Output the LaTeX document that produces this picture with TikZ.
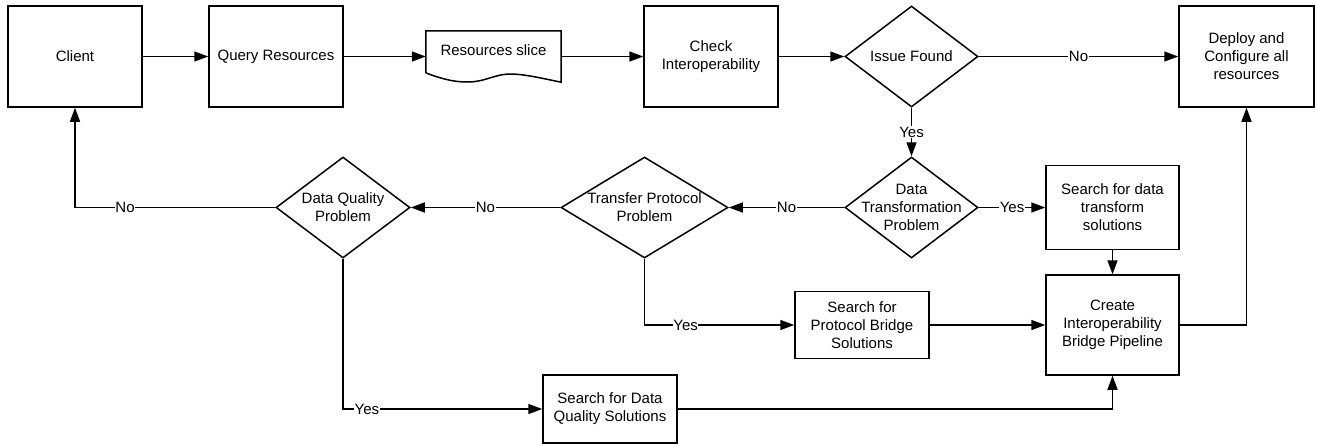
\documentclass[tikz,border=0pt]{standalone}
\usepackage{fontspec}
\setmainfont{Liberation Sans}
\usetikzlibrary{arrows.meta,shapes.geometric}
\begin{document}
\begin{tikzpicture}[x=1pt,y=-1pt,
  every node/.style={font=\fontsize{15}{18}\selectfont, align=center},
  box/.style={draw, line width=1.5pt, inner sep=0pt},
  dia/.style={draw, diamond, line width=1.5pt, inner sep=0pt},
  flow/.style={line width=1.5pt, -{Triangle[length=14pt,width=10pt]}},
  lbl/.style={fill=white, inner sep=0.5pt}]
\useasboundingbox (0,0) rectangle (1317,445);

% top row
\node[box, minimum width=134pt, minimum height=101pt] (client) at (75,56.5) {Client};
\node[box, minimum width=134pt, minimum height=101pt] (query) at (276,56.5) {Query Resources};
\node[minimum width=135pt, minimum height=51pt, inner sep=0pt] (slice) at (493.5,56.5) {};
\node at (493.5,50.5) {Resources slice};
\draw[line width=1.5pt] (slice.south west) ++(0,-9) -- (slice.north west) -- (slice.north east) -- (slice.south east)
  .. controls (545,79) and (525,74) .. (510,74)
  .. controls (495,74) and (485,82) .. (468,82)
  .. controls (455,82) and (445,80) .. (426,73);
\node[box, minimum width=134pt, minimum height=101pt] (check) at (711,56.5) {Check\\Interoperability};
\node[dia, minimum width=133pt, minimum height=101pt, label={center:Issue Found}] (issue) at (911.5,56.5) {};
\node[box, minimum width=135pt, minimum height=101pt] (deploy) at (1246.5,56.5) {Deploy and\\Configure all\\resources};

% decision row
\node[dia, minimum width=133pt, minimum height=101pt, label={center:{Data\\Transformation\\Problem}}] (dtp) at (911.5,207.5) {};
\node[dia, minimum width=167pt, minimum height=101pt, label={center:{Transfer Protocol\\Problem}}] (tpp) at (644.5,207.5) {};
\node[dia, minimum width=134pt, minimum height=101pt, label={center:{Data Quality\\Problem}}] (dqp) at (343,207.5) {};
\node[box, minimum width=133pt, minimum height=84pt] (sdt) at (1112.5,207.5) {Search for data\\transform\\solutions};

% solution row
\node[box, minimum width=133pt, minimum height=100pt] (create) at (1112.5,325) {Create\\Interoperability\\Bridge Pipeline};
\node[box, minimum width=134pt, minimum height=67pt] (spb) at (862,325) {Search for\\Protocol Bridge\\Solutions};
\node[box, minimum width=134pt, minimum height=68pt] (dqs) at (610,409) {Search for Data\\Quality Solutions};

% connectors
\draw[flow] (client) -- (query);
\draw[flow] (query) -- (slice);
\draw[flow] (slice) -- (check);
\draw[flow] (check) -- (issue);
\draw[flow] (issue) -- node[lbl]{No} (deploy);
\draw[flow] (issue) -- node[lbl]{Yes} (dtp);
\draw[flow] (dtp) -- node[lbl]{Yes} (sdt);
\draw[flow] (dtp) -- node[lbl]{No} (tpp);
\draw[flow] (tpp) -- node[lbl]{No} (dqp);
\draw[flow] (dqp.west) -- node[lbl,pos=0.75]{No} (dqp.west -| client.south) -- (client.south);
\draw[flow] (tpp.south) -- (tpp.south |- spb.west) -- node[lbl,pos=0.275]{Yes} (spb.west);
\draw[flow] (dqp.south) -- (dqp.south |- dqs.west) -- node[lbl,pos=0.12]{Yes} (dqs.west);
\draw[flow] (sdt) -- (create);
\draw[flow] (spb) -- (create);
\draw[flow] (dqs.east) -| (create.south);
\draw[flow] (create.east) -| (deploy.south);
\end{tikzpicture}
\end{document}
